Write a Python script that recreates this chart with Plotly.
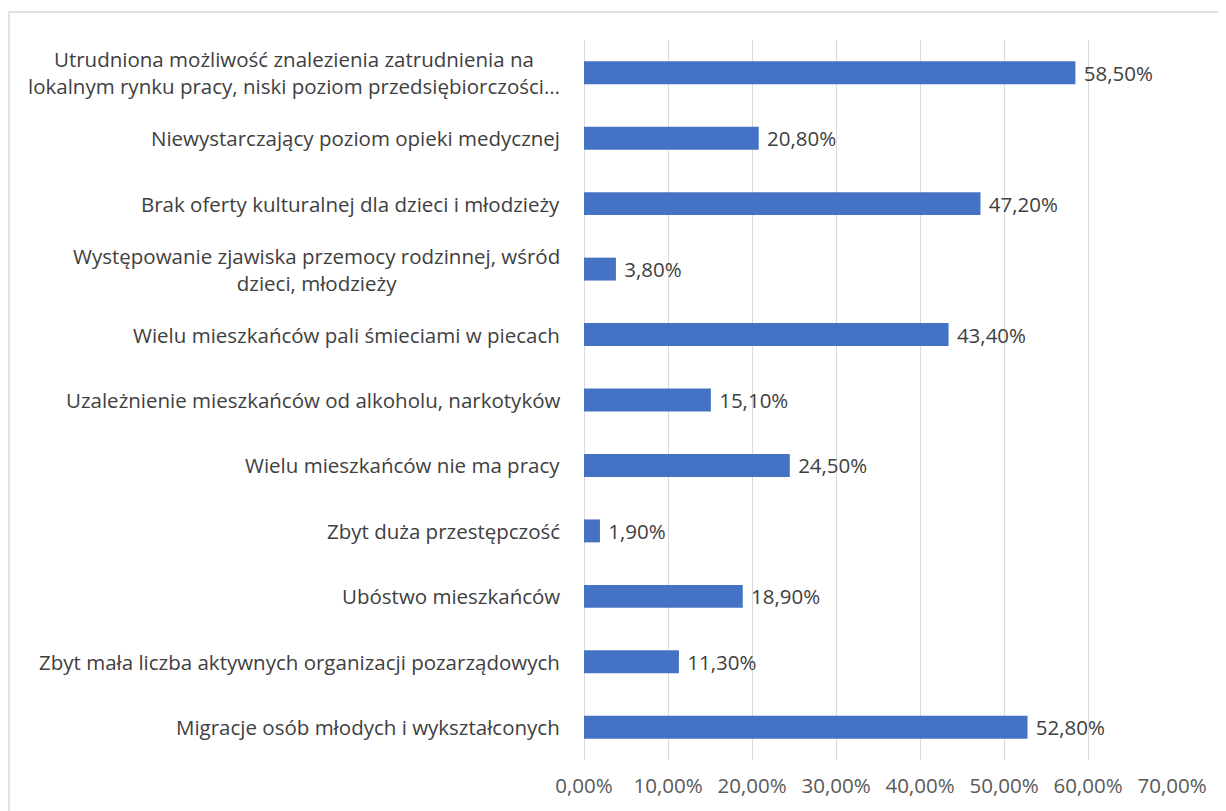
import plotly.graph_objects as go

categories = [
    "Utrudniona możliwość znalezienia zatrudnienia na<br>lokalnym rynku pracy, niski poziom przedsiębiorczości…",
    "Niewystarczający poziom opieki medycznej",
    "Brak oferty kulturalnej dla dzieci i młodzieży",
    "Występowanie zjawiska przemocy rodzinnej, wśród<br>dzieci, młodzieży",
    "Wielu mieszkańców pali śmieciami w piecach",
    "Uzależnienie mieszkańców od alkoholu, narkotyków",
    "Wielu mieszkańców nie ma pracy",
    "Zbyt duża przestępczość",
    "Ubóstwo mieszkańców",
    "Zbyt mała liczba aktywnych organizacji pozarządowych",
    "Migracje osób młodych i wykształconych",
]
values = [58.5, 20.8, 47.2, 3.8, 43.4, 15.1, 24.5, 1.9, 18.9, 11.3, 52.8]
tick_values = [0, 10, 20, 30, 40, 50, 60, 70]
tick_labels = ["0,00%", "10,00%", "20,00%", "30,00%", "40,00%", "50,00%", "60,00%", "70,00%"]

FONT = "Open Sans"
FS = 20.5
W, H = 1218, 803
L, R, T, B = 576, 54, 32, 51
pw, ph = W - L - R, H - T - B

fig = go.Figure()
fig.add_trace(go.Bar(
    x=values, y=categories, orientation="h",
    marker=dict(color="#4472C4", line=dict(width=0)),
    texttemplate=" %{x:.2f}%", textposition="outside",
    constraintext="none",
    textfont=dict(family=FONT, size=FS, color="#404040"),
    cliponaxis=False,
))

for c in categories:
    fig.add_annotation(
        x=0, xref="paper", xshift=-22, y=c, yref="y",
        text=c, showarrow=False, xanchor="right", yanchor="middle",
        align="center", font=dict(family=FONT, size=FS, color="#404040"),
    )

# outer chart frame
fig.add_shape(
    type="rect", xref="paper", yref="paper",
    x0=(1 - L) / pw, x1=(1240 - L) / pw,
    y0=-(H + 20 - (H - B)) / ph, y1=((H - B) - 4) / ph,
    line=dict(color="#d9d9d9", width=1.5), fillcolor="rgba(0,0,0,0)",
    layer="below",
)

fig.update_layout(
    width=W, height=H,
    margin=dict(l=L, r=R, t=T, b=B),
    paper_bgcolor="white", plot_bgcolor="white",
    separators=", ",
    bargap=0.65,
    showlegend=False,
    uniformtext=dict(minsize=FS, mode="show"),
    xaxis=dict(
        range=[0, 70], tickvals=tick_values, ticktext=tick_labels,
        showgrid=True, gridcolor="#d9d9d9", gridwidth=1.3,
        zeroline=True, zerolinecolor="#d9d9d9", zerolinewidth=1.3,
        showline=False, ticks="",
        tickfont=dict(family=FONT, size=FS, color="#595959"),
        ticklabelstandoff=11,
    ),
    yaxis=dict(
        autorange="reversed", showticklabels=False, showgrid=False,
        showline=False, ticks="", zeroline=False,
    ),
)

fig.write_html("out.html")
